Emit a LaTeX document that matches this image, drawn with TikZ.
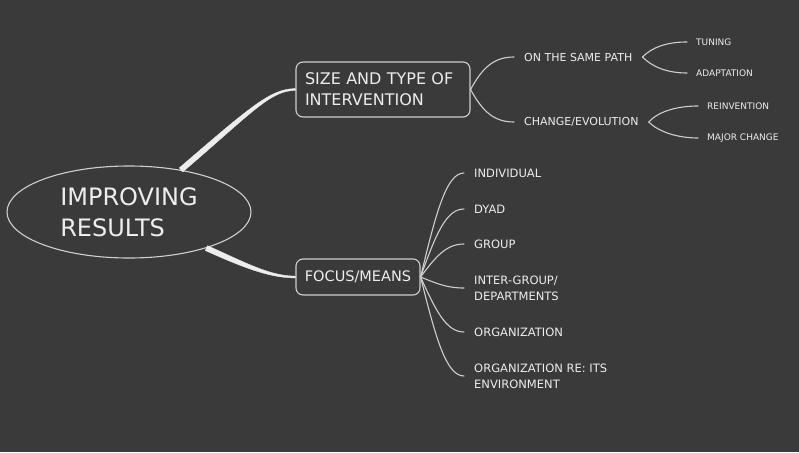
\documentclass[tikz,border=0pt]{standalone}
\usepackage{fontspec}
\setmainfont{DejaVu Sans}
\usetikzlibrary{shapes.geometric,calc}
\definecolor{bg}{HTML}{3A3A3A}
\definecolor{ink}{HTML}{EDEDED}
\definecolor{wire}{HTML}{CFCFCF}
\begin{document}
\begin{tikzpicture}[x=1pt,y=-1pt,
  every node/.style={text=ink},
  rootnode/.style={ellipse, draw=wire, line width=1.1pt, minimum width=244pt, minimum height=92pt, inner sep=0pt, align=left, font=\fontsize{24}{31}\selectfont},
  boxnode/.style={draw=wire, line width=1.1pt, rounded corners=7pt},
  lvltwo/.style={anchor=west, inner xsep=10pt, inner ysep=2pt, font=\fontsize{11}{14}\selectfont},
  lvlthree/.style={anchor=west, inner xsep=9pt, inner ysep=2pt, font=\fontsize{9}{11}\selectfont},
  leaf/.style={anchor=west, inner xsep=10pt, inner ysep=2pt, align=left, font=\fontsize{11.5}{16}\selectfont},
  trunk/.style={fill=ink, draw=ink, line width=0.4pt, line join=round},
  twig/.style={draw=wire, line width=1.1pt, line cap=round}
]
\fill[bg] (0,0) rectangle (799,452);
\useasboundingbox (0,0) rectangle (799,452);

% root
\node[rootnode] (root) at (129,212) {IMPROVING\\RESULTS};

% first level boxes
\node[boxnode, text width=156pt, inner xsep=9pt, minimum height=55pt, align=left, font=\fontsize{16}{21}\selectfont] (b1) at (383,89.5) {SIZE AND TYPE OF\\INTERVENTION};
\node[boxnode, minimum width=124pt, minimum height=36pt, font=\fontsize{14.5}{18}\selectfont] (b2) at (358,277) {FOCUS/MEANS};

% second level (top)
\node[lvltwo] (p1) at (514,57) {ON THE SAME PATH};
\node[lvltwo] (p2) at (514,122) {CHANGE/EVOLUTION};

% third level
\node[lvlthree] (t1) at (687,42) {TUNING};
\node[lvlthree] (t2) at (687,73) {ADAPTATION};
\node[lvlthree] (t3) at (698,106) {REINVENTION};
\node[lvlthree] (t4) at (698,138) {MAJOR CHANGE};

% leaves of focus/means
\node[leaf] (l1) at (464,173) {INDIVIDUAL};
\node[leaf] (l2) at (464,209) {DYAD};
\node[leaf] (l3) at (464,244) {GROUP};
\node[leaf] (l4) at (464,288) {INTER-GROUP/\\DEPARTMENTS};
\node[leaf] (l5) at (464,332) {ORGANIZATION};
\node[leaf] (l6) at (464,376) {ORGANIZATION RE: ITS\\ENVIRONMENT};

% trunks (tapered)
\path[trunk] ($(root.39)+(-1.7,-2.0)$) .. controls +(70,-60) and +(-25,0) .. ($(b1.west)+(0,-0.9)$)
  -- ($(b1.west)+(0,0.9)$) .. controls +(-25,0) and +(70,-60) .. ($(root.39)+(1.7,2.0)$) -- cycle;
\path[trunk] ($(root.-25)+(1.1,-2.4)$) .. controls +(40,18) and +(-25,0) .. ($(b2.west)+(0,-0.9)$)
  -- ($(b2.west)+(0,0.9)$) .. controls +(-25,0) and +(40,18) .. ($(root.-25)+(-1.1,2.4)$) -- cycle;

% box1 branches
\draw[twig] (b1.east) .. controls +(12,-22) and +(-20,0) .. (p1.west);
\draw[twig] (b1.east) .. controls +(12,22) and +(-20,0) .. (p2.west);

% third level branches
\draw[twig] (p1.east) .. controls +(10,-10) and +(-20,0) .. (t1.west);
\draw[twig] (p1.east) .. controls +(10,10) and +(-20,0) .. (t2.west);
\draw[twig] (p2.east) .. controls +(10,-11) and +(-20,0) .. (t3.west);
\draw[twig] (p2.east) .. controls +(10,10) and +(-20,0) .. (t4.west);

% focus/means fan
\draw[twig] (b2.east) .. controls +(15,-62) and +(-18,0) .. (l1.west);
\draw[twig] (b2.east) .. controls +(15,-42) and +(-18,0) .. (l2.west);
\draw[twig] (b2.east) .. controls +(15,-20) and +(-18,0) .. (l3.west);
\draw[twig] (b2.east) .. controls +(15,6) and +(-18,0) .. (l4.west);
\draw[twig] (b2.east) .. controls +(15,33) and +(-18,0) .. (l5.west);
\draw[twig] (b2.east) .. controls +(15,60) and +(-18,0) .. (l6.west);
\end{tikzpicture}
\end{document}
